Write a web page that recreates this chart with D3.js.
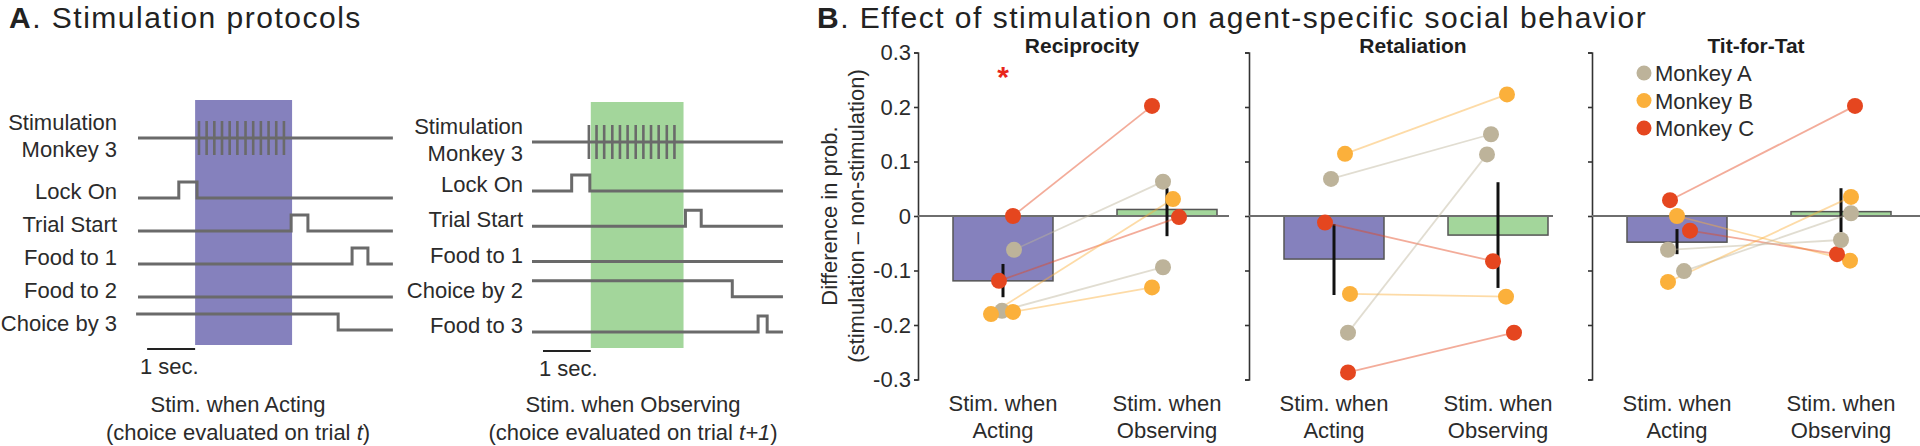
<!DOCTYPE html>
<html><head><meta charset="utf-8">
<script src="https://cdn.jsdelivr.net/npm/d3@7"></script>
<style>
html,body{margin:0;padding:0;background:#fff;}
svg{display:block;font-family:"Liberation Sans",Arial,Helvetica,sans-serif;}
</style></head>
<body><svg id="c" width="1920" height="446"></svg>
<script>
// ---------------- DATA ----------------
// Panel A: stimulation protocols (times in seconds, level 0 = low, 1 = high)
const protoTitles = ["Stim. when Acting", "Stim. when Observing"];
const protoTrialSuffix = ["t", "t+1"];
const actingRows = ["Lock On", "Trial Start", "Food to 1", "Food to 2", "Choice by 3"];
const actingTraces = [
  [[0,0],[0.85,0],[0.85,1],[1.23,1],[1.23,0],[5.31,0]],
  [[0,0],[3.19,0],[3.19,1],[3.54,1],[3.54,0],[5.31,0]],
  [[0,0],[4.46,0],[4.46,1],[4.79,1],[4.79,0],[5.31,0]],
  [[0,0],[5.31,0]],
  [[-0.04,1],[4.17,1],[4.17,0],[5.31,0]]
];
const actingStimWindow = [1.19, 3.21];
const actingPulses = [1.27,1.43,1.59,1.75,1.91,2.07,2.24,2.40,2.56,2.72,2.88,3.04];
const actingTraceEnd = 5.31;

const observingRows = ["Lock On", "Trial Start", "Food to 1", "Choice by 2", "Food to 3"];
const observingTraces = [
  [[0,0],[0.83,0],[0.83,1],[1.21,1],[1.21,0],[5.25,0]],
  [[0,0],[3.21,0],[3.21,1],[3.54,1],[3.54,0],[5.25,0]],
  [[0,0],[5.25,0]],
  [[0,1],[4.19,1],[4.19,0],[5.25,0]],
  [[0,0],[4.73,0],[4.73,1],[4.92,1],[4.92,0],[5.25,0]]
];
const observingStimWindow = [1.23, 3.17];
const observingPulses = [1.19,1.35,1.51,1.68,1.84,2.00,2.17,2.33,2.49,2.65,2.82,2.98];
const observingTraceEnd = 5.25;

// Panel B
const behaviors = ["Reciprocity", "Retaliation", "Tit-for-Tat"];
const conditions = ["Acting", "Observing"];
const yTicks = [0.3, 0.2, 0.1, 0, -0.1, -0.2, -0.3];
const meanActing    = [-0.119, -0.079, -0.048];
const meanObserving = [ 0.012, -0.035,  0.008];
const errActing     = [[-0.149, -0.088], [-0.145, -0.015], [-0.070, -0.024]];
const errObserving  = [[-0.037,  0.051], [-0.132,  0.062], [-0.030,  0.051]];
const significant   = [true, false, false];
const monkeys = ["Monkey A", "Monkey B", "Monkey C"];
// [monkey, acting value, observing value, acting jitter, observing jitter] (jitter in bar widths)
const reciprocityPairs = [
  ["Monkey C",  0.000,  0.202,  0.10, -0.15],
  ["Monkey A", -0.062,  0.063,  0.11, -0.04],
  ["Monkey C", -0.119, -0.002, -0.04,  0.12],
  ["Monkey A", -0.174, -0.094, -0.01, -0.04],
  ["Monkey B", -0.180,  0.031, -0.12,  0.06],
  ["Monkey B", -0.176, -0.131,  0.10, -0.15]
];
const retaliationPairs = [
  ["Monkey B",  0.114,  0.223,  0.11,  0.09],
  ["Monkey A",  0.068,  0.150, -0.03, -0.07],
  ["Monkey C", -0.012, -0.083, -0.09, -0.05],
  ["Monkey B", -0.143, -0.148,  0.16,  0.08],
  ["Monkey A", -0.214,  0.113,  0.14, -0.11],
  ["Monkey C", -0.287, -0.214,  0.14,  0.16]
];
const titForTatPairs = [
  ["Monkey C",  0.029,  0.202, -0.07,  0.14],
  ["Monkey B",  0.000, -0.082,  0.00,  0.09],
  ["Monkey C", -0.027, -0.070,  0.13, -0.04],
  ["Monkey A", -0.062, -0.044, -0.09,  0.00],
  ["Monkey A", -0.101,  0.005,  0.07,  0.10],
  ["Monkey B", -0.121,  0.035, -0.09,  0.10]
];
const pairsByBehavior = [reciprocityPairs, retaliationPairs, titForTatPairs];

// ---------------- STYLE ----------------
const textCol = "#2b2b2b";
const traceCol = "#6a6a6a";
const actingCol = "#8581bd";
const observingCol = "#a3d69b";
const monkeyColor = d3.scaleOrdinal().domain(monkeys).range(["#bdb39a", "#fbb03b", "#e5461f"]);

const svg = d3.select("#c");

// ---------------- PANEL A ----------------
svg.append("text").attr("x", 9).attr("y", 28).attr("font-size", 30).attr("letter-spacing", 1.5).attr("fill", "#222")
  .call(t => { t.append("tspan").attr("font-weight", "bold").text("A");
               t.append("tspan").text(". Stimulation protocols"); });

const protoPanels = [
  {rows: actingRows, traces: actingTraces, win: actingStimWindow, pulses: actingPulses, end: actingTraceEnd,
   x0: 138, pxPerSec: 48, stimY: 138, rowRange: [198, 330], winY: [100, 345], labelX: 117,
   barY: 349, secX: 140, secY: 374, centerX: 238},
  {rows: observingRows, traces: observingTraces, win: observingStimWindow, pulses: observingPulses, end: observingTraceEnd,
   x0: 532, pxPerSec: 47.8, stimY: 142, rowRange: [191, 332], winY: [102, 348], labelX: 523,
   barY: 351, secX: 539, secY: 376, centerX: 633}
];

protoPanels.forEach((p, pi) => {
  const g = svg.append("g");
  const x = d3.scaleLinear().domain([0, 1]).range([p.x0, p.x0 + p.pxPerSec]);
  const row = d3.scaleLinear().domain([0, p.rows.length - 1]).range(p.rowRange);
  const level = 16;
  g.append("rect").attr("x", x(p.win[0])).attr("width", x(p.win[1]) - x(p.win[0]))
    .attr("y", p.winY[0]).attr("height", p.winY[1] - p.winY[0])
    .attr("fill", pi === 0 ? actingCol : observingCol);
  g.append("line").attr("x1", x(0)).attr("x2", x(p.end)).attr("y1", p.stimY).attr("y2", p.stimY)
    .attr("stroke", traceCol).attr("stroke-width", 3);
  g.selectAll(".pulse").data(p.pulses).join("line")
    .attr("x1", d => x(d)).attr("x2", d => x(d)).attr("y1", p.stimY - 17).attr("y2", p.stimY + 17)
    .attr("stroke", traceCol).attr("stroke-width", 2.6);
  const line = d3.line();
  p.traces.forEach((tr, i) => {
    const base = row(i);
    g.append("path").attr("d", line(tr.map(d => [x(d[0]), base - d[1] * level])))
      .attr("fill", "none").attr("stroke", traceCol).attr("stroke-width", 3);
  });
  const lab = g.append("g").attr("font-size", 22).attr("fill", textCol).attr("text-anchor", "end");
  lab.append("text").attr("x", p.labelX).attr("y", p.stimY - 8).text("Stimulation");
  lab.append("text").attr("x", p.labelX).attr("y", p.stimY + 19).text("Monkey 3");
  lab.selectAll(".rl").data(p.rows).join("text")
    .attr("x", p.labelX).attr("y", (d, i) => row(i) + 1).text(d => d);
  g.append("line").attr("x1", x(p.win[0] - 1)).attr("x2", x(p.win[0])).attr("y1", p.barY).attr("y2", p.barY)
    .attr("stroke", "#222").attr("stroke-width", 2);
  g.append("text").attr("x", p.secX).attr("y", p.secY).attr("font-size", 22).attr("fill", textCol).text("1 sec.");
  g.append("text").attr("x", p.centerX).attr("y", 412).attr("text-anchor", "middle")
    .attr("font-size", 22).attr("fill", textCol).text(protoTitles[pi]);
  g.append("text").attr("x", p.centerX).attr("y", 440).attr("text-anchor", "middle")
    .attr("font-size", 22).attr("fill", textCol)
    .call(t => { t.append("tspan").text("(choice evaluated on trial ");
                 t.append("tspan").attr("font-style", "italic").text(protoTrialSuffix[pi]);
                 t.append("tspan").text(")"); });
});

// ---------------- PANEL B ----------------
svg.append("text").attr("x", 817).attr("y", 28).attr("font-size", 30).attr("letter-spacing", 1.5).attr("fill", "#222")
  .call(t => { t.append("tspan").attr("font-weight", "bold").text("B");
               t.append("tspan").text(". Effect of stimulation on agent-specific social behavior"); });

const y = d3.scaleLinear().domain([-0.3, 0.3]).range([379.5, 52.5]);
const axisX = [918, 1249, 1592];
const zeroLen = [311, 304, 330];
const barW = 100;

svg.append("text").attr("transform", `translate(837,${y(0)}) rotate(-90)`).attr("text-anchor", "middle")
  .attr("font-size", 22).attr("fill", textCol).text("Difference in prob.");
svg.append("text").attr("transform", `translate(864,${y(0)}) rotate(-90)`).attr("text-anchor", "middle")
  .attr("font-size", 22).attr("fill", textCol).text("(stimulation \u2013 non-stimulation)");

behaviors.forEach((b, bi) => {
  const ax = axisX[bi];
  const g = svg.append("g");
  const xs = d3.scalePoint().domain(conditions).range([ax + 3, ax + 331]).padding(0.5);
  const step = barW;

  const axis = d3.axisLeft(y).tickValues(yTicks).tickSize(4).tickSizeOuter(4).tickPadding(3)
    .tickFormat(bi === 0 ? (d => d === 0 ? "0" : d3.format(".1f")(d).replace("\u2212", "-")) : "");
  const ag = g.append("g").attr("transform", `translate(${ax},0)`).call(axis);
  ag.select(".domain").attr("stroke", "#333").attr("stroke-width", 1.6);
  ag.selectAll(".tick line").attr("stroke", "#333").attr("stroke-width", 1.6);
  ag.selectAll(".tick text").attr("font-size", 22).attr("fill", textCol)
    .attr("font-family", '"Liberation Sans",Arial,Helvetica,sans-serif');

  const means = [meanActing[bi], meanObserving[bi]];
  g.selectAll(".bar").data(conditions).join("rect")
    .attr("x", d => xs(d) - barW / 2).attr("width", barW)
    .attr("y", (d, i) => y(Math.max(0, means[i])))
    .attr("height", (d, i) => Math.abs(y(means[i]) - y(0)))
    .attr("fill", (d, i) => i === 0 ? actingCol : observingCol)
    .attr("stroke", "#555").attr("stroke-width", 1.5);

  g.append("line").attr("x1", ax).attr("x2", ax + zeroLen[bi]).attr("y1", y(0)).attr("y2", y(0))
    .attr("stroke", "#6e6e6e").attr("stroke-width", 2);

  const errs = [errActing[bi], errObserving[bi]];
  g.selectAll(".err").data(conditions).join("line")
    .attr("x1", d => xs(d)).attr("x2", d => xs(d))
    .attr("y1", (d, i) => y(errs[i][0])).attr("y2", (d, i) => y(errs[i][1]))
    .attr("stroke", "#111").attr("stroke-width", 3);

  const pairs = pairsByBehavior[bi];
  g.selectAll(".pl").data(pairs).join("line")
    .attr("x1", d => xs("Acting") + d[3] * step).attr("y1", d => y(d[1]))
    .attr("x2", d => xs("Observing") + d[4] * step).attr("y2", d => y(d[2]))
    .attr("stroke", d => monkeyColor(d[0])).attr("stroke-opacity", 0.45).attr("stroke-width", 1.8);
  const pts = [];
  pairs.forEach(d => {
    pts.push({m: d[0], x: xs("Acting") + d[3] * step, v: d[1]});
    pts.push({m: d[0], x: xs("Observing") + d[4] * step, v: d[2]});
  });
  g.selectAll(".pt").data(pts).join("circle")
    .attr("cx", d => d.x).attr("cy", d => y(d.v)).attr("r", 8)
    .attr("fill", d => monkeyColor(d.m));

  g.append("text").attr("x", ax + 164).attr("y", 53).attr("text-anchor", "middle")
    .attr("font-size", 21).attr("font-weight", "bold").attr("fill", "#1e1e1e").text(b);

  if (significant[bi]) {
    g.append("text").attr("x", xs("Acting")).attr("y", 87).attr("text-anchor", "middle")
      .attr("font-size", 30).attr("font-weight", "bold").attr("fill", "#e8261c").text("*");
  }

  const xl = g.selectAll(".xl").data(conditions).join("text")
    .attr("text-anchor", "middle").attr("font-size", 22).attr("fill", textCol);
  xl.append("tspan").attr("x", d => xs(d)).attr("y", 411).text("Stim. when");
  xl.append("tspan").attr("x", d => xs(d)).attr("y", 438).text(d => d);
});

const lg = svg.append("g");
lg.selectAll("circle").data(monkeys).join("circle")
  .attr("cx", 1644).attr("cy", (d, i) => 73 + i * 27.5).attr("r", 7.5)
  .attr("fill", d => monkeyColor(d));
lg.selectAll("text").data(monkeys).join("text")
  .attr("x", 1655).attr("y", (d, i) => 81 + i * 27.5).attr("font-size", 22).attr("fill", textCol)
  .text(d => d);
</script></body></html>
